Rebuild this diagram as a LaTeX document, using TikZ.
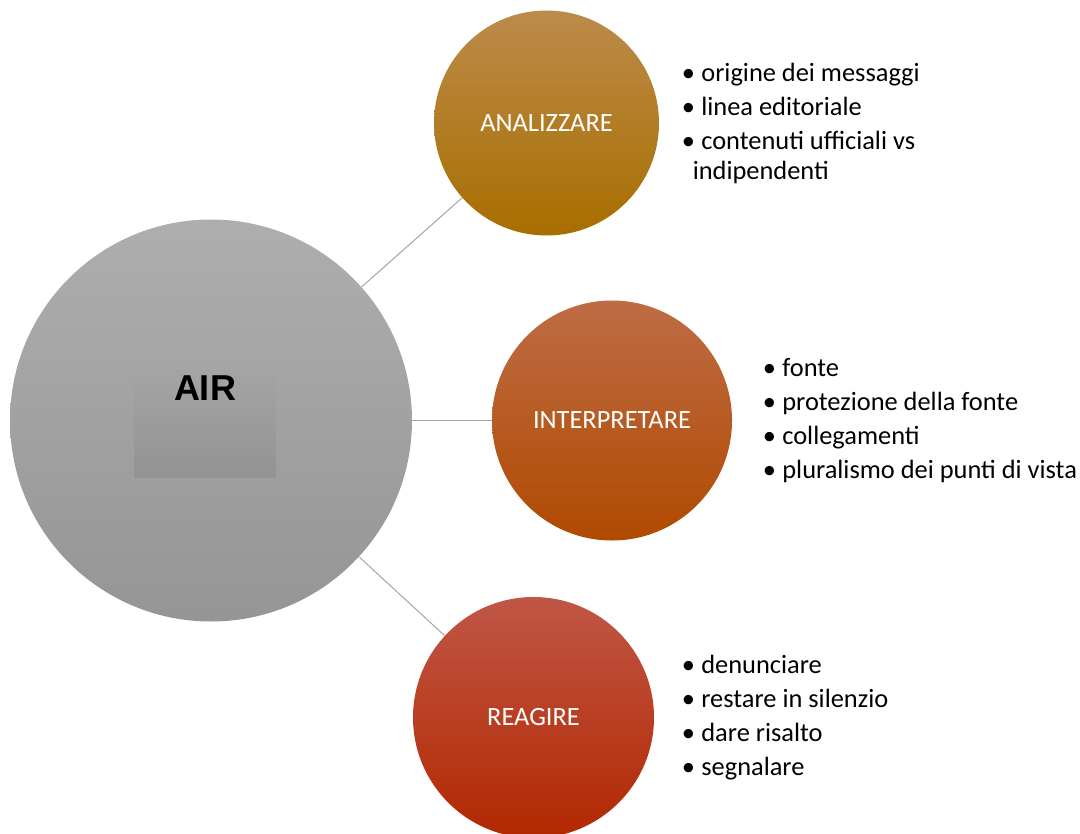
\documentclass[tikz,border=0pt]{standalone}
\usepackage{fontspec}
\setmainfont{Carlito}
\newfontfamily\arialfont{Liberation Sans}
\usetikzlibrary{positioning}
\definecolor{airtop}{RGB}{174,174,174}
\definecolor{airbot}{RGB}{149,149,149}
\definecolor{boxtop}{RGB}{166,166,166}
\definecolor{boxbot}{RGB}{147,147,147}
\definecolor{anatop}{RGB}{188,139,74}
\definecolor{anabot}{RGB}{168,110,0}
\definecolor{inttop}{RGB}{190,108,70}
\definecolor{intbot}{RGB}{176,74,0}
\definecolor{reatop}{RGB}{192,86,70}
\definecolor{reabot}{RGB}{178,40,0}
\definecolor{linegray}{RGB}{165,165,165}
\newcommand{\punto}{\textbullet\hspace{3.2pt}}
\begin{document}
\begin{tikzpicture}[x=0.5pt, y=-0.5pt,
    ramo/.style={circle, inner sep=0pt, text=white, font=\fontsize{13.2}{16}\selectfont},
    elenco/.style={align=left, inner sep=0pt, font=\fontsize{13.2}{15}\selectfont},
    linea/.style={draw=linegray, line width=0.5pt}]
  \useasboundingbox (0,0) rectangle (1080,834);
  % Cerchio centrale
  \node[circle, minimum size=201pt, inner sep=0pt, top color=airtop, bottom color=airbot] (air) at (211,420.5) {};
  \node[minimum width=71pt, minimum height=59pt, inner sep=0pt, top color=boxtop, bottom color=boxbot] (airbox) at (205,418) {};
  \node[below=8.5pt of airbox.north, inner sep=0pt, font=\arialfont\bfseries\fontsize{18}{20}\selectfont] (airlbl) {AIR};
  % Cerchi
  \node[ramo, minimum size=112.5pt, top color=anatop, bottom color=anabot] (ana) at (546.5,123) {ANALIZZARE};
  \node[ramo, minimum size=120pt, top color=inttop, bottom color=intbot] (int) at (612,420.5) {INTERPRETARE};
  \node[ramo, minimum size=120.5pt, top color=reatop, bottom color=reabot] (rea) at (533.5,717.5) {REAGIRE};
  % Collegamenti
  \draw[linea] (air) -- (ana);
  \draw[linea] (air) -- (int);
  \draw[linea] (air) -- (rea);
  % Elenchi
  \node[elenco, right=11pt of ana] (anal) {\punto origine dei messaggi\\[2pt]
    \punto linea editoriale\\[2pt]
    \punto contenuti ufficiali vs\\
    \hspace*{5.5pt}indipendenti};
  \node[elenco, right=15pt of int] (intl) {\punto fonte\\[2pt]
    \punto protezione della fonte\\[2pt]
    \punto collegamenti\\[2pt]
    \punto pluralismo dei punti di vista};
  \node[elenco, right=13.5pt of rea] (real) {\punto denunciare\\[2pt]
    \punto restare in silenzio\\[2pt]
    \punto dare risalto\\[2pt]
    \punto segnalare};
\end{tikzpicture}
\end{document}
